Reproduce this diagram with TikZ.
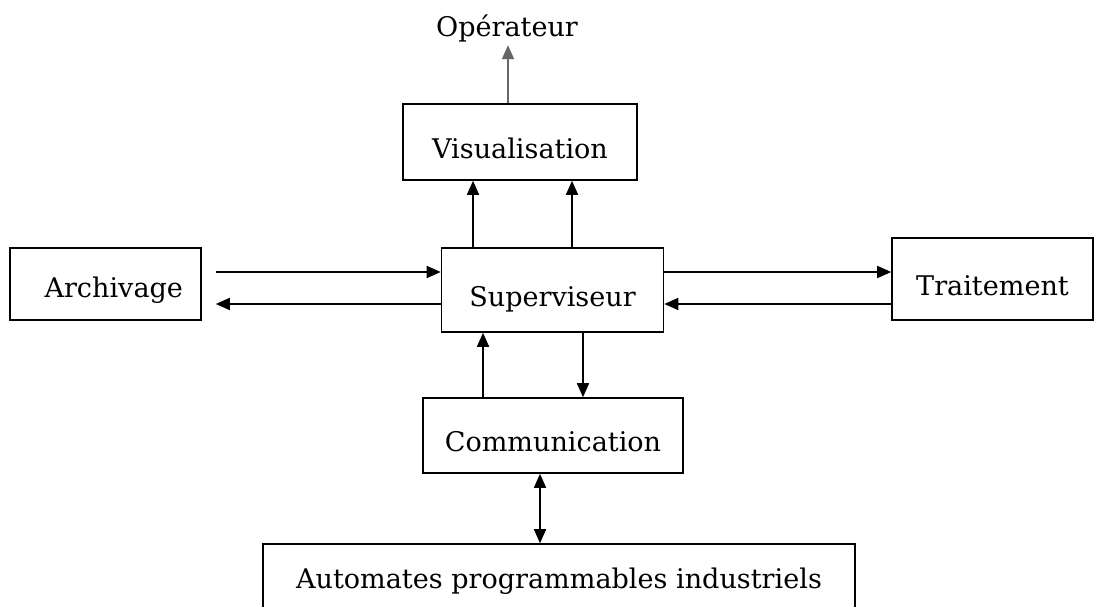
\documentclass[tikz,border=0pt]{standalone}
\usepackage{fontspec}
\setmainfont{DejaVu Serif}
\usetikzlibrary{arrows.meta}

\begin{document}
\begin{tikzpicture}[x=0.02cm, y=-0.02cm, line width=0.9pt,
    >={Triangle[length=0.28cm, width=0.24cm]},
    bloc/.style={draw, font=\fontsize{15.4}{18}\selectfont, text height=0.66cm, text depth=0cm, inner sep=0pt}]
%      \draw [help lines, opacity=1] (0,0) grid[step=50] (1094,607);
      \useasboundingbox (0,0) rectangle (1094,607);

      \node [font=\fontsize{15.4}{18}\selectfont, inner sep=1pt] (op) at (507,29) {Opérateur};
      \node [bloc, minimum width=4.68cm, minimum height=1.52cm] (vis) at (520,142) {Visualisation};
      \node [bloc, minimum width=3.82cm, minimum height=1.44cm, text width=3.1cm, align=right, text height=0.56cm] (arch) at (105.5,284) {Archivage};
      \node [bloc, minimum width=4.44cm, minimum height=1.68cm] (sup) at (552.5,290) {Superviseur};
      \node [bloc, minimum width=4.02cm, minimum height=1.64cm] (trait) at (992.5,279) {Traitement};
      \node [bloc, minimum width=5.2cm, minimum height=1.5cm] (comm) at (553,435.5) {Communication};
      \node [bloc, minimum width=11.84cm, minimum height=1.6cm, text depth=0.5cm] (auto) at (559,584) {Automates programmables industriels};

      % vers l'operateur
      \draw [->, gray!80!black] ([xshift=-0.24cm]vis.north) -- ([xshift=-0.24cm]vis.north |- op.south);

      % superviseur -> visualisation
      \draw [->] ([xshift=-1.59cm]sup.north) -- ([xshift=-1.59cm]sup.north |- vis.south);
      \draw [->] ([xshift=0.39cm]sup.north) -- ([xshift=0.39cm]sup.north |- vis.south);

      % archivage
      \coordinate (a1) at ([xshift=0.28cm, yshift=0.24cm]arch.east);
      \coordinate (a2) at ([xshift=0.28cm, yshift=-0.4cm]arch.east);
      \draw [->] (a1) -- (a1 -| sup.west);
      \draw [->] (a2 -| sup.west) -- (a2);

      % traitement
      \draw [->] ([yshift=0.36cm]sup.east) -- ([yshift=0.36cm]sup.east -| trait.west);
      \draw [->] ([yshift=-0.28cm]sup.east -| trait.west) -- ([yshift=-0.28cm]sup.east);

      % communication
      \draw [->] ([xshift=-1.4cm]comm.north) -- ([xshift=-1.4cm]comm.north |- sup.south);
      \draw [->] ([xshift=0.6cm]comm.north |- sup.south) -- ([xshift=0.6cm]comm.north);
      \draw [<->] ([xshift=-0.26cm]comm.south) -- ([xshift=-0.26cm]comm.south |- auto.north);

\end{tikzpicture}
\end{document}
